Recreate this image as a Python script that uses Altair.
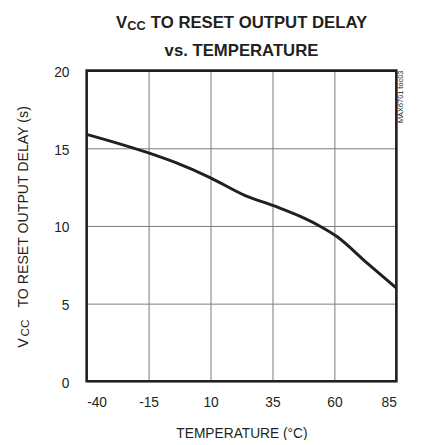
import altair as alt
import pandas as pd

# Data
temps = [-40, -15, -4, 10, 24, 36, 46, 54, 61, 73, 85]
delays = [15.9, 14.7, 14.07, 13.1, 11.96, 11.27, 10.63, 10.0, 9.32, 7.64, 6.0]
x_ticks = [-40, -15, 10, 35, 60, 85]
y_ticks = [0, 5, 10, 15, 20]

title_v = ["V"]
title_cc = ["CC"]
title_rest = ["TO RESET OUTPUT DELAY"]
title_line2 = ["vs. TEMPERATURE"]
ytitle_rest = ["TO RESET OUTPUT DELAY (s)"]
x_title = "TEMPERATURE (°C)"
side_note = ["MAX6701 toc03"]

W, H = 315, 316
FONT = "Liberation Sans, Arial, Helvetica, sans-serif"
INK = "#231f20"

df = pd.DataFrame({"T": temps, "D": delays})

line = alt.Chart(df).mark_line(color=INK, strokeWidth=3, interpolate="monotone").encode(
    x=alt.X("T:Q", scale=alt.Scale(domain=[-40, 85], nice=False, zero=False),
            axis=alt.Axis(values=x_ticks, title=x_title, grid=True, gridColor="#7a7a7a",
                          gridWidth=1, gridOpacity=1, domain=False, ticks=False,
                          labelExpr="'' + datum.value",
                          labelPadding=15, labelFontSize=14, labelFont=FONT, labelColor=INK,
                          titleFont=FONT, titleFontSize=14, titleFontWeight="normal",
                          titleColor=INK, titleY=57, titleBaseline="alphabetic")),
    y=alt.Y("D:Q", scale=alt.Scale(domain=[0, 20], nice=False),
            axis=alt.Axis(values=y_ticks, title=None, grid=True, gridColor="#7a7a7a",
                          gridWidth=1, gridOpacity=1, domain=False, ticks=False,
                          labelPadding=18, labelFontSize=14, labelFont=FONT, labelColor=INK,
                          labelOffset=2)),
)

frame = alt.Chart(pd.DataFrame({"f": [0]})).mark_rect(
    filled=False, stroke=INK, strokeWidth=2.6
).encode(x=alt.value(0), x2=alt.value(W), y=alt.value(0), y2=alt.value(H))


def txt(values, x, y, size, weight="normal", align="left", angle=0, baseline="alphabetic"):
    return alt.Chart(pd.DataFrame({"t": values})).mark_text(
        font=FONT, fontSize=size, fontWeight=weight, align=align, angle=angle,
        baseline=baseline, color=INK
    ).encode(x=alt.value(x), y=alt.value(y), text="t:N")


texts = [
    txt(title_v, 41.3, -43.5, 17, "bold", "right"),
    txt(title_cc, 41.3, -41, 13, "bold", "left"),
    txt(title_rest, 65.3, -43.5, 17, "bold", "left"),
    txt(title_line2, W / 2, -15, 17, "bold", "center"),
    txt(["V"], -60, 282, 14.6, "normal", "left", 270),
    txt(["CC"], -58.5, 270.5, 12, "normal", "left", 270),
    txt(ytitle_rest, -60, 241, 14.4, "normal", "left", 270),
    txt(side_note, 322, 0, 7.5, "normal", "right", 270),
]

chart = alt.layer(line, frame, *texts).properties(
    width=W, height=H,
    autosize=alt.AutoSizeParams(type="none"),
    padding={"left": 80, "top": 60, "right": 20, "bottom": 56},
).configure_view(strokeWidth=0)

chart.save("out.html", embed_options={"renderer": "svg", "actions": False})
